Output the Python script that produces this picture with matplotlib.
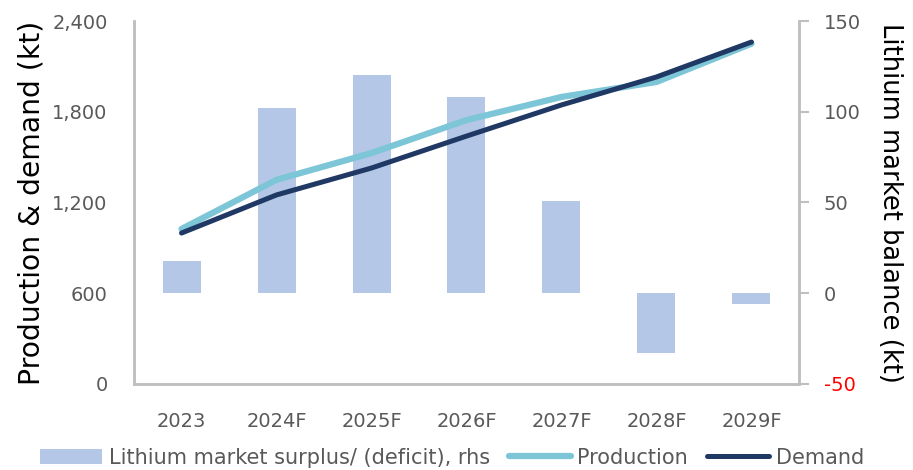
import matplotlib
matplotlib.use("Agg")
import matplotlib.pyplot as plt
import numpy as np

categories = ["2023", "2024F", "2025F", "2026F", "2027F", "2028F", "2029F"]
balance = [17.5, 102, 120, 108, 51, -33, -6]
production = [1025, 1350, 1527, 1745, 1898, 1997, 2250]
demand = [998, 1250, 1428, 1639, 1845, 2030, 2261]
left_ticks = [0, 600, 1200, 1800, 2400]
right_ticks = [-50, 0, 50, 100, 150]

plt.rcParams['font.family'] = ['DejaVu Sans']
gray = "#595959"
spine_c = "#BFBFBF"

fig = plt.figure(figsize=(9.13, 4.7), dpi=100)
ax = fig.add_axes([0.1468, 0.183, 0.7283, 0.7723])
ax2 = ax.twinx()

x = np.arange(len(categories))
bars = ax2.bar(x, balance, width=0.4, color="#B4C7E7", zorder=1,
               label="Lithium market surplus/ (deficit), rhs")
lp, = ax.plot(x, production, color="#7DC6D7", lw=4.5, solid_capstyle="round",
              label="Production", zorder=3)
ld, = ax.plot(x, demand, color="#1F3864", lw=3.6, solid_capstyle="round",
              label="Demand", zorder=4)

ax.set_zorder(ax2.get_zorder() + 1)
ax.patch.set_visible(False)

ax.set_xlim(-0.5, 6.5)
ax.set_ylim(0, 2400)
ax2.set_ylim(-50, 150)
ax.set_yticks(left_ticks)
ax.set_yticklabels([f"{v:,}" for v in left_ticks])
ax2.set_yticks(right_ticks)
ax2.set_yticklabels([str(v) for v in right_ticks])
ax.set_xticks(x)
ax.set_xticklabels(categories)

for a in (ax, ax2):
    a.spines['top'].set_visible(False)
    for s in ('left', 'right', 'bottom'):
        a.spines[s].set_color(spine_c)
        a.spines[s].set_linewidth(1.8)

ax.tick_params(axis='y', length=0, labelsize=14, labelcolor=gray, pad=19)
ax.tick_params(axis='x', length=0, labelsize=14, labelcolor=gray, pad=20)
ax2.tick_params(axis='y', length=7, width=1.5, color=spine_c, labelsize=14,
                labelcolor=gray, pad=11)
ax2.get_yticklabels()[0].set_color("red")

ax.set_ylabel("Production & demand (kt)", fontsize=20.3, color="black", labelpad=5)
ax2.set_ylabel("Lithium market balance (kt)", fontsize=18.5, color="black",
               rotation=270, labelpad=30)

fig.legend(handles=[bars, lp, ld], loc="lower center", bbox_to_anchor=(0.495, -0.035),
           ncol=3, frameon=False, fontsize=15, handlelength=3.0,
           handletextpad=0.3, columnspacing=0.9, labelcolor=gray)

fig.savefig("out.png", dpi=100)
